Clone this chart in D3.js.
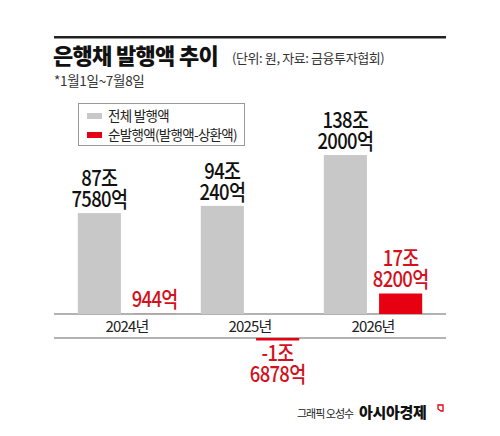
<!DOCTYPE html>
<html>
<head>
<meta charset="utf-8">
<script src="https://cdn.jsdelivr.net/npm/d3@7"></script>
<style>
  body { margin: 0; background: #fff; }
  svg { display: block; font-family: "Noto Sans CJK KR", "Noto Sans", sans-serif; }
</style>
</head>
<body>
<div id="chart"></div>
<script>
// data (unit: 조 원)
const years = ["2024년", "2025년", "2026년"]
const series = ["전체 발행액", "순발행액(발행액-상환액)"]
const totalValues = [87.758, 94.024, 138.2]
const netValues = [0.0944, -1.6878, 17.82]
const totalLabels = [["87조", "7580억"], ["94조", "240억"], ["138조", "2000억"]]
const netLabels = [["944억"], ["-1조", "6878억"], ["17조", "8200억"]]

const grey = "#c8c8c8"
const red = "#e60012"
const redText = "#d4101c"

const svg = d3.select("#chart").append("svg")
    .attr("width", 500)
    .attr("height", 436)

// header
svg.append("rect").attr("x", 54).attr("y", 36).attr("width", 392).attr("height", 2.5).attr("fill", "#222")
svg.append("text").attr("x", 53).attr("y", 64)
    .attr("font-size", 22).attr("font-weight", 900).attr("letter-spacing", -0.7).attr("fill", "#111")
    .text("은행채 발행액 추이")
svg.append("text").attr("x", 232).attr("y", 63)
    .attr("font-size", 13).attr("letter-spacing", -0.4).attr("fill", "#333")
    .text("(단위: 원, 자료: 금융투자협회)")
svg.append("text").attr("x", 54).attr("y", 86)
    .attr("font-size", 13.5).attr("letter-spacing", -0.3).attr("fill", "#333")
    .text("*1월1일~7월8일")

// scales
const xScale = d3.scaleBand().domain(years).range([65.5, 434.5]).paddingInner(0.2).paddingOuter(0.1)
const xInner = d3.scaleBand().domain(series).range([0, xScale.bandwidth()]).paddingInner(0.22)
const yScale = d3.scaleLinear().domain([0, 140]).range([314, 153])
const colour = d3.scaleOrdinal().domain(series).range([grey, red])

const zeroY = yScale(0)
const bandBottom = 338   // negative bars hang below the label band

// axis lines and year labels
svg.append("line").attr("x1", 54).attr("x2", 446).attr("y1", zeroY).attr("y2", zeroY)
    .attr("stroke", "#666").attr("stroke-width", 1.2)
svg.append("line").attr("x1", 54).attr("x2", 446).attr("y1", bandBottom).attr("y2", bandBottom)
    .attr("stroke", "#666").attr("stroke-width", 1.2)

const xAxis = svg.append("g").attr("transform", `translate(0,${zeroY})`)
    .call(d3.axisBottom(xScale).tickSize(0).tickPadding(0))
xAxis.select(".domain").remove()
xAxis.selectAll("text")
    .attr("dy", 17.5).attr("font-size", 15).attr("letter-spacing", -0.8)
    .attr("font-family", "'Noto Sans CJK KR', sans-serif").attr("fill", "#222")

// bars
const totalX = (i) => xScale(years[i]) + xInner(series[0])
const netX = (i) => xScale(years[i]) + xInner(series[1])

svg.selectAll(".total").data(totalValues).join("rect")
    .attr("class", "total")
    .attr("x", (d, i) => totalX(i))
    .attr("y", d => yScale(d))
    .attr("width", xInner.bandwidth())
    .attr("height", d => zeroY - yScale(d))
    .attr("fill", colour(series[0]))

svg.selectAll(".net").data(netValues).join("rect")
    .attr("class", "net")
    .attr("x", (d, i) => netX(i))
    .attr("y", d => d >= 0 ? yScale(d) : bandBottom)
    .attr("width", xInner.bandwidth())
    .attr("height", d => Math.max(zeroY - yScale(Math.abs(d)), d < 0 ? 2.5 : 0))
    .attr("fill", colour(series[1]))

// value labels (condensed look: squeeze horizontally)
const lineH = 21
function drawLabel(lines, cx, lastBaseline, fill) {
    const g = svg.append("g")
        .attr("transform", `translate(${cx},${lastBaseline}) scale(0.84,1)`)
    const t = g.append("text")
        .attr("text-anchor", "middle")
        .attr("font-size", 22)
        .attr("font-weight", 500)
        .attr("letter-spacing", -0.8)
        .attr("fill", fill)
    lines.forEach((s, k) => {
        t.append("tspan").attr("x", 0)
            .attr("y", -(lines.length - 1 - k) * lineH)
            .text(s)
    })
}

totalValues.forEach((d, i) => {
    drawLabel(totalLabels[i], totalX(i) + xInner.bandwidth() / 2, yScale(d) - 6, "#111")
})
netValues.forEach((d, i) => {
    const cx = netX(i) + xInner.bandwidth() / 2
    if (d >= 0) {
        drawLabel(netLabels[i], cx, yScale(d) - 7, redText)
    } else {
        drawLabel(netLabels[i], cx, bandBottom + 44, redText)
    }
})

// legend
const legend = svg.append("g")
legend.append("rect").attr("x", 78.5).attr("y", 103.5).attr("width", 166).attr("height", 42)
    .attr("fill", "#fff").attr("stroke", "#999").attr("stroke-width", 1)
series.forEach((s, k) => {
    legend.append("rect").attr("x", 87).attr("y", 113 + k * 19).attr("width", 15).attr("height", 6)
        .attr("fill", colour(s))
    legend.append("text").attr("x", 108).attr("y", 121 + k * 19)
        .attr("font-size", 13.5).attr("letter-spacing", -0.7).attr("fill", "#222")
        .text(s)
})

// footer
svg.append("text").attr("x", 297).attr("y", 418)
    .attr("font-size", 11).attr("letter-spacing", -1).attr("fill", "#222")
    .text("그래픽 오성수")
svg.append("text").attr("x", 359).attr("y", 418)
    .attr("font-size", 15).attr("font-weight", 900).attr("letter-spacing", -0.3).attr("fill", "#111")
    .text("아시아경제")
svg.append("path").attr("d", "M438,405 h5 v6 h-2 l-3,-2 z")
    .attr("fill", "none").attr("stroke", red).attr("stroke-width", 1.3)
</script>
</body>
</html>
